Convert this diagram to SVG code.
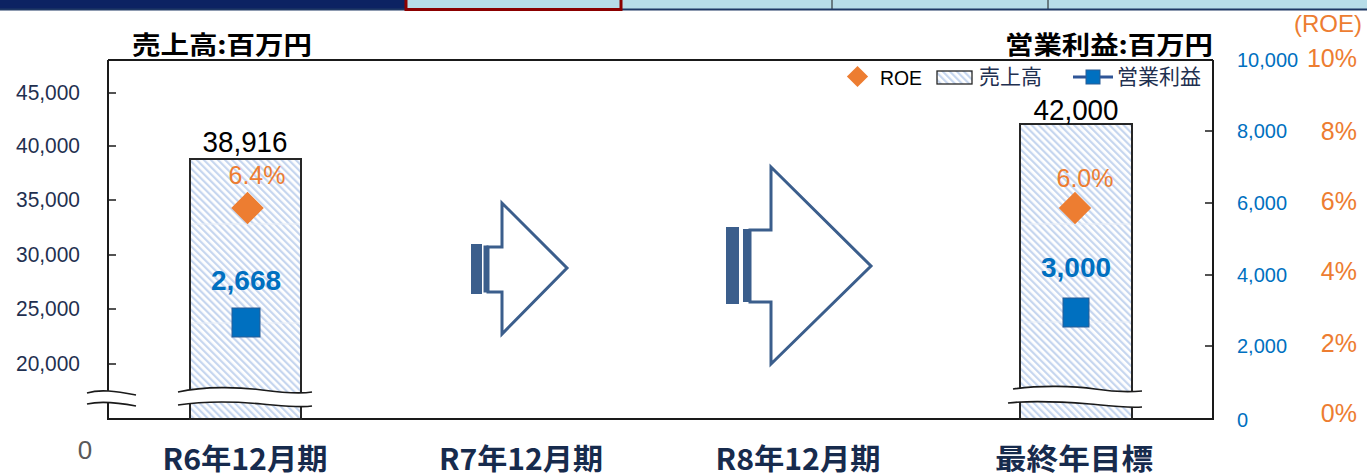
<svg xmlns="http://www.w3.org/2000/svg" width="1367" height="476" viewBox="0 0 1367 476">
<defs>
<pattern id="hatch" patternUnits="userSpaceOnUse" width="5" height="5" patternTransform="rotate(-45)">
<rect width="5" height="5" fill="#ffffff"/>
<rect width="2.2" height="5" fill="#C6D6EF"/>
</pattern>
<style>
.num{font-family:"Liberation Sans",Arial,sans-serif}
.jp{font-family:"Noto Sans CJK JP","Noto Sans CJK SC",sans-serif}
.ax{stroke:#1a1a1a;stroke-width:2;fill:none}
.tick{stroke:#1a1a1a;stroke-width:1.5}
.lax{font-size:22px;fill:#1F3050;text-anchor:end}
.rax{font-size:20px;fill:#0070C0}
.pax{font-size:25px;fill:#ED7D31;text-anchor:end}
.bar{fill:url(#hatch);stroke:#262626;stroke-width:2}
.grid{stroke:#E9EEF6;stroke-width:1}
.val{font-size:30px;fill:#000;text-anchor:middle}
.roe{font-size:25px;fill:#ED7D31;text-anchor:middle}
.op{font-size:28px;fill:#0070C0;font-weight:bold;text-anchor:middle}
.dia{fill:#ED7D31}
.sq{fill:#0070C0;stroke:#2A5C95;stroke-width:1}
.cat{font-size:29px;font-weight:bold;fill:#172B4D;text-anchor:middle}
.wave{fill:none;stroke:#1a1a1a;stroke-width:1.6}
.gap{fill:#ffffff;stroke:none}
.arr{fill:#ffffff;stroke:#3B5E8C;stroke-width:3;stroke-linejoin:miter}
.arrf{fill:#3B5E8C}
.title{font-size:25px;font-weight:bold;fill:#000}
.leg{font-size:21px;fill:#1F3050}
</style>
</defs>

<g id="banner">
<rect x="0" y="0" width="405" height="9" fill="#0C2262"/>
<rect x="405" y="0" width="962" height="9" fill="#B7DDE8"/>
<line x1="832" y1="0" x2="832" y2="9" stroke="#1a1a1a" stroke-width="1"/>
<line x1="1048" y1="0" x2="1048" y2="9" stroke="#1a1a1a" stroke-width="1"/>
<line x1="0" y1="9.5" x2="1367" y2="9.5" stroke="#1F3864" stroke-width="2"/>
<rect x="406" y="-3" width="215" height="12.5" fill="#B7DDE8" stroke="#8B0000" stroke-width="3"/>
</g>

<g id="titles">
<text class="jp title" x="132" y="54" textLength="180" lengthAdjust="spacingAndGlyphs">売上高:百万円</text>
<text class="jp title" x="1005" y="54" textLength="208" lengthAdjust="spacingAndGlyphs">営業利益:百万円</text>
<text class="num" x="1362" y="32" font-size="24" fill="#ED7D31" text-anchor="end">(ROE)</text>
</g>

<g id="plot-frame">
<line class="ax" x1="108" y1="60" x2="1213" y2="60"/>
<line class="ax" x1="108" y1="60" x2="108" y2="420"/>
<line class="ax" x1="1213" y1="60" x2="1213" y2="420"/>
<line class="ax" x1="107" y1="419" x2="1214" y2="419"/>
</g>

<g id="left-axis">
<line class="tick" x1="108" y1="93" x2="116" y2="93"/>
<line class="tick" x1="108" y1="146" x2="116" y2="146"/>
<line class="tick" x1="108" y1="200" x2="116" y2="200"/>
<line class="tick" x1="108" y1="255" x2="116" y2="255"/>
<line class="tick" x1="108" y1="309" x2="116" y2="309"/>
<line class="tick" x1="108" y1="364" x2="116" y2="364"/>
<text class="num lax" x="80" y="100" textLength="64" lengthAdjust="spacingAndGlyphs">45,000</text>
<text class="num lax" x="80" y="153" textLength="64" lengthAdjust="spacingAndGlyphs">40,000</text>
<text class="num lax" x="80" y="207" textLength="64" lengthAdjust="spacingAndGlyphs">35,000</text>
<text class="num lax" x="80" y="262" textLength="64" lengthAdjust="spacingAndGlyphs">30,000</text>
<text class="num lax" x="80" y="316" textLength="64" lengthAdjust="spacingAndGlyphs">25,000</text>
<text class="num lax" x="80" y="371" textLength="64" lengthAdjust="spacingAndGlyphs">20,000</text>
<text class="num" x="85" y="459" font-size="26" fill="#595959" text-anchor="middle">0</text>
<path class="gap" d="M87,393 C100,389 115,391 136,395 L136,406 C115,402 100,401 87,404 Z"/>
<path class="wave" d="M87,393 C100,389 115,391 136,395"/>
<path class="wave" d="M87,404 C100,401 115,402 136,406"/>
</g>

<g id="right-axis">
<line class="tick" x1="1205" y1="131" x2="1213" y2="131"/>
<line class="tick" x1="1205" y1="203" x2="1213" y2="203"/>
<line class="tick" x1="1205" y1="275" x2="1213" y2="275"/>
<line class="tick" x1="1205" y1="346" x2="1213" y2="346"/>
<text class="num rax" x="1237" y="67">10,000</text>
<text class="num rax" x="1237" y="138">8,000</text>
<text class="num rax" x="1237" y="210">6,000</text>
<text class="num rax" x="1237" y="282">4,000</text>
<text class="num rax" x="1237" y="353">2,000</text>
<text class="num rax" x="1237" y="427">0</text>
<text class="num pax" x="1357" y="67">10%</text>
<text class="num pax" x="1357" y="140">8%</text>
<text class="num pax" x="1357" y="210">6%</text>
<text class="num pax" x="1357" y="280">4%</text>
<text class="num pax" x="1357" y="352">2%</text>
<text class="num pax" x="1357" y="422">0%</text>
</g>

<g id="legend">
<rect x="850" y="69" width="15" height="15" class="dia" transform="rotate(45 857.5 76.5)"/>
<text class="num" x="880" y="85" font-size="21" fill="#000" textLength="42" lengthAdjust="spacingAndGlyphs">ROE</text>
<rect x="937" y="71" width="35" height="13" fill="url(#hatch)" stroke="#262626" stroke-width="1.3"/>
<text class="jp leg" x="979" y="84">売上高</text>
<line x1="1073" y1="77" x2="1113" y2="77" stroke="#2F5597" stroke-width="3"/>
<rect x="1086" y="70" width="14" height="14" class="sq"/>
<text class="jp leg" x="1117" y="84">営業利益</text>
</g>

<g id="bar-r6">
<rect class="bar" x="190" y="159" width="111" height="260"/>
<line class="grid" x1="191" y1="224" x2="300" y2="224"/>
<line class="grid" x1="191" y1="323" x2="300" y2="323"/>
<path class="gap" d="M178,392 C205,386 240,387 262,390 C285,393 300,394 312,392 L312,406 C300,408 285,406 262,404 C240,402 205,401 178,405 Z"/>
<path class="wave" d="M178,392 C205,386 240,387 262,390 C285,393 300,394 312,392"/>
<path class="wave" d="M178,405 C205,401 240,402 262,404 C285,406 300,408 312,406"/>
<text class="num val" x="245" y="152" textLength="85" lengthAdjust="spacingAndGlyphs">38,916</text>
<text class="num roe" x="257" y="184">6.4%</text>
<rect class="dia" x="236" y="196.5" width="23" height="23" transform="rotate(45 247.5 208)"/>
<text class="num op" x="246" y="290">2,668</text>
<rect class="sq" x="232" y="308" width="28" height="29"/>
</g>

<g id="arrow-r7">
<rect class="arrf" x="471" y="244" width="11" height="50"/>
<rect class="arrf" x="483.5" y="245.5" width="5" height="47"/>
<path class="arr" d="M488,247 L502,247 L502,203 L567,268 L502,334 L502,292 L488,292 Z"/>
</g>

<g id="arrow-r8">
<rect class="arrf" x="726" y="227" width="13" height="77"/>
<rect class="arrf" x="743" y="229" width="8" height="73"/>
<path class="arr" d="M750,230 L771,230 L771,167 L871,266 L771,364 L771,302 L750,302 Z"/>
</g>

<g id="bar-target">
<rect class="bar" x="1020" y="124" width="112" height="295"/>
<line class="grid" x1="1021" y1="224" x2="1131" y2="224"/>
<line class="grid" x1="1021" y1="322" x2="1131" y2="322"/>
<path class="gap" d="M1013,389 C1040,385 1075,386 1095,389 C1115,392 1130,392 1142,391 L1142,407 C1125,408 1110,406 1090,404 C1065,402 1035,400 1008,403 Z"/>
<path class="wave" d="M1013,389 C1040,385 1075,386 1095,389 C1115,392 1130,392 1142,391"/>
<path class="wave" d="M1008,403 C1035,400 1065,402 1090,404 C1110,406 1125,408 1142,407"/>
<text class="num val" x="1076" y="120" textLength="85" lengthAdjust="spacingAndGlyphs">42,000</text>
<text class="num roe" x="1085" y="187">6.0%</text>
<rect class="dia" x="1063.5" y="196.5" width="23" height="23" transform="rotate(45 1075 208)"/>
<text class="num op" x="1076" y="277">3,000</text>
<rect class="sq" x="1063" y="298" width="26" height="29"/>
</g>

<g id="categories">
<text class="jp cat" x="245" y="470" textLength="165" lengthAdjust="spacingAndGlyphs">R6年12月期</text>
<text class="jp cat" x="521" y="470" textLength="164" lengthAdjust="spacingAndGlyphs">R7年12月期</text>
<text class="jp cat" x="798" y="470" textLength="165" lengthAdjust="spacingAndGlyphs">R8年12月期</text>
<text class="jp cat" x="1074" y="470" textLength="158" lengthAdjust="spacingAndGlyphs">最終年目標</text>
</g>
</svg>
